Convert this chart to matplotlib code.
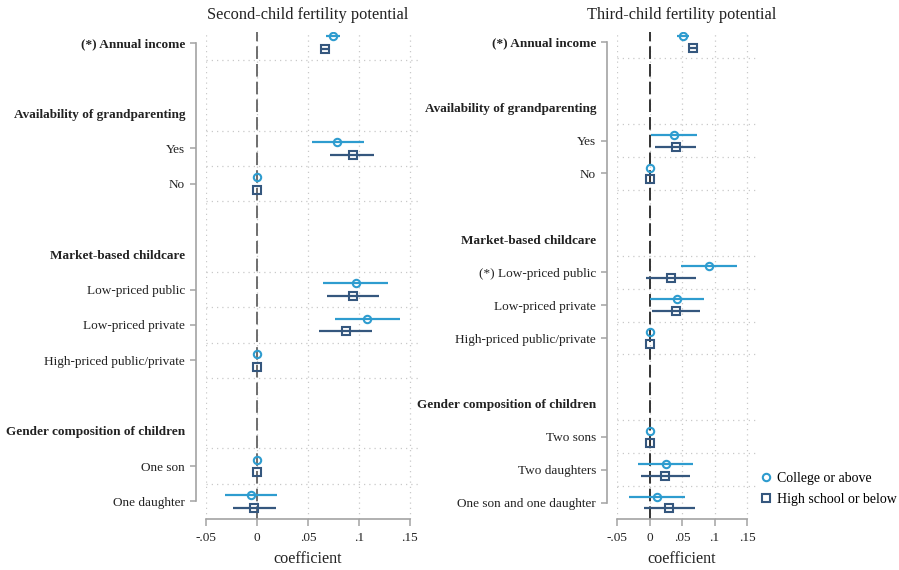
import matplotlib
matplotlib.use("Agg")
import matplotlib.pyplot as plt
from matplotlib.lines import Line2D

plt.rcParams["font.family"] = ["Liberation Serif", "DejaVu Serif"]

# ---- data -------------------------------------------------------------
groups_2 = [
    (None, ["(*) Annual income"]),
    ("Availability of grandparenting", ["Yes", "No"]),
    ("Market-based childcare", ["Low-priced public", "Low-priced private",
                                "High-priced public/private"]),
    ("Gender composition of children", ["One son", "One daughter"]),
]
college_coef_2 = [0.075, 0.079, 0.0, 0.097, 0.108, 0.0, 0.0, -0.006]
college_lo_2 = [0.068, 0.054, 0.0, 0.065, 0.077, 0.0, 0.0, -0.031]
college_hi_2 = [0.081, 0.105, 0.0, 0.129, 0.140, 0.0, 0.0, 0.020]
hs_coef_2 = [0.067, 0.094, 0.0, 0.094, 0.087, 0.0, 0.0, -0.003]
hs_lo_2 = [0.062, 0.072, 0.0, 0.069, 0.061, 0.0, 0.0, -0.024]
hs_hi_2 = [0.072, 0.115, 0.0, 0.120, 0.113, 0.0, 0.0, 0.019]

groups_3 = [
    (None, ["(*) Annual income"]),
    ("Availability of grandparenting", ["Yes", "No"]),
    ("Market-based childcare", ["(*) Low-priced public", "Low-priced private",
                                "High-priced public/private"]),
    ("Gender composition of children", ["Two sons", "Two daughters",
                                        "One son and one daughter"]),
]
college_coef_3 = [0.052, 0.038, 0.0, 0.091, 0.042, 0.0, 0.0, 0.025, 0.012]
college_lo_3 = [0.043, 0.002, 0.0, 0.049, 0.001, 0.0, 0.0, -0.018, -0.032]
college_hi_3 = [0.061, 0.073, 0.0, 0.134, 0.084, 0.0, 0.0, 0.067, 0.055]
hs_coef_3 = [0.067, 0.040, 0.0, 0.033, 0.040, 0.0, 0.0, 0.024, 0.030]
hs_lo_3 = [0.060, 0.009, 0.0, -0.005, 0.004, 0.0, 0.0, -0.013, -0.009]
hs_hi_3 = [0.075, 0.071, 0.0, 0.071, 0.078, 0.0, 0.0, 0.062, 0.070]

x_ticks = [-0.05, 0, 0.05, 0.1, 0.15]
x_ticklabels = ["-.05", "0", ".05", ".1", ".15"]
series_labels = ["College or above", "High school or below"]

# ---- style ------------------------------------------------------------
C_COLLEGE = "#2e9ccf"
C_HS = "#35577e"
AXIS_GRAY = "#a3a3a3"
GRID_GRAY = "#c9c9c9"
OFFSET = 0.18
FS = 9.5

W, H = 899, 570
fig = plt.figure(figsize=(W / 100, H / 100), dpi=100)


def layout(groups):
    """Assign a row to every header and item; return rows info."""
    labels, rows, is_header, item_rows, grid_rows = [], [], [], [], []
    r = 0
    for gi, (header, items) in enumerate(groups):
        if gi > 0:
            r += 1  # blank spacer row
        if header is not None:
            labels.append(header)
            rows.append(r)
            is_header.append(True)
            grid_rows.append(r + 0.5)
            r += 1
        for it in items:
            labels.append(it)
            rows.append(r)
            is_header.append(False)
            item_rows.append(r)
            grid_rows.append(r + 0.5)
            r += 1
    last = r - 1
    grid_rows = [g for g in grid_rows if g < last]
    return labels, rows, is_header, item_rows, grid_rows, last


def panel(rect, xlim, groups, cc, cl, ch, hc, hl, hh, title, zero_color):
    ax = fig.add_axes(rect)
    labels, rows, is_header, item_rows, grid_rows, last = layout(groups)
    ax.set_xlim(*xlim)
    ax.set_ylim(last + 0.5, -0.3)

    # dotted reference grid
    for g in grid_rows:
        ax.axhline(g, color=GRID_GRAY, lw=0.9, ls=(0, (1, 3.2)), zorder=0)
    for xv in x_ticks:
        ax.axvline(xv, color=GRID_GRAY, lw=0.9, ls=(0, (1, 3.2)), zorder=0)
    ax.axvline(0, color=zero_color, lw=1.4, ls=(0, (6.5, 2.6)), zorder=1)

    # confidence intervals and point estimates
    for y, c, lo, hi in zip(item_rows, cc, cl, ch):
        ax.plot([lo, hi], [y - OFFSET, y - OFFSET], color=C_COLLEGE, lw=1.6,
                solid_capstyle="butt", zorder=2)
        ax.plot(c, y - OFFSET, marker="o", ms=5.3, mew=1.5, mfc="none",
                mec=C_COLLEGE, zorder=3)
    for y, c, lo, hi in zip(item_rows, hc, hl, hh):
        ax.plot([lo, hi], [y + OFFSET, y + OFFSET], color=C_HS, lw=1.6,
                solid_capstyle="butt", zorder=2)
        ax.plot(c, y + OFFSET, marker="s", ms=5.3, mew=1.5, mfc="none",
                mec=C_HS, zorder=3)

    # axes and ticks
    for s in ("top", "right"):
        ax.spines[s].set_visible(False)
    ax.spines["left"].set_position(("outward", 7.2))
    ax.spines["left"].set_bounds(0, last)
    ax.spines["bottom"].set_bounds(x_ticks[0], x_ticks[-1])
    for s in ("left", "bottom"):
        ax.spines[s].set_color(AXIS_GRAY)
        ax.spines[s].set_linewidth(1.2)

    ax.set_xticks(x_ticks)
    ax.set_xticklabels(x_ticklabels, fontsize=FS)
    ax.tick_params(axis="x", length=5, width=1.1, color=AXIS_GRAY, pad=4.5,
                   labelcolor="#222222")
    ax.set_yticks(rows)
    ax.set_yticklabels(labels, fontsize=FS)
    ax.tick_params(axis="y", length=4.3, width=1.1, color=AXIS_GRAY, pad=3.6,
                   labelcolor="#222222")
    for tick, lab, hd in zip(ax.yaxis.get_major_ticks(),
                             ax.get_yticklabels(), is_header):
        if hd:
            tick.tick1line.set_visible(False)
            lab.set_fontweight("bold")
    ax.get_yticklabels()[0].set_fontweight("bold")

    mid = (x_ticks[0] + x_ticks[-1]) / 2
    ax.annotate(title, xy=(mid, 1), xycoords=("data", "axes fraction"),
                xytext=(0, 12.5), textcoords="offset points", ha="center",
                va="center", fontsize=11.8, color="#222222")
    ax.annotate("coefficient", xy=(mid, 0), xycoords=("data", "axes fraction"),
                xytext=(0, -29), textcoords="offset points", ha="center",
                va="center", fontsize=11.6, color="#222222")
    return ax


bottom = 1 - 519 / H
height = 487 / H
panel([206 / W, bottom, 212 / W, height], (-0.05, 0.158), groups_2,
      college_coef_2, college_lo_2, college_hi_2,
      hs_coef_2, hs_lo_2, hs_hi_2,
      "Second-child fertility potential", "#6e6e6e")
panel([617 / W, bottom, 138.5 / W, height], (-0.05, 0.163), groups_3,
      college_coef_3, college_lo_3, college_hi_3,
      hs_coef_3, hs_lo_3, hs_hi_3,
      "Third-child fertility potential", "#333333")

handles = [
    Line2D([], [], ls="none", marker="o", ms=5.3, mew=1.5, mfc="none",
           mec=C_COLLEGE),
    Line2D([], [], ls="none", marker="s", ms=5.3, mew=1.5, mfc="none",
           mec=C_HS),
]
fig.legend(handles, series_labels, loc="upper left",
           bbox_to_anchor=(762 / W, 1 - 472 / H), frameon=False,
           fontsize=10, handlelength=0.6, handletextpad=0.45,
           borderpad=0, borderaxespad=0, labelspacing=0.6)

fig.savefig("out.png", dpi=100, facecolor="white")
